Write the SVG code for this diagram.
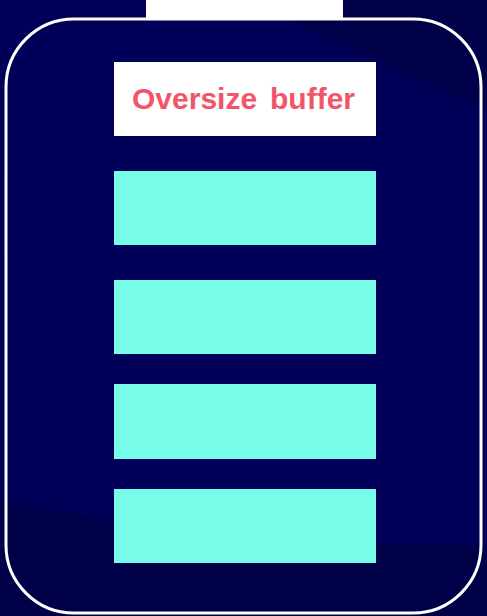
<svg xmlns="http://www.w3.org/2000/svg" width="487" height="616" viewBox="0 0 487 616">
  <style>
    .slot { fill: #77fce9; }
    .label { font-family: "Liberation Sans", Arial, sans-serif; font-weight: bold; font-size: 30px; fill: #f2546a; }
  </style>
  <g id="background">
    <rect x="0" y="0" width="487" height="616" fill="#000058"/>
    <polygon points="246,0 487,0 487,110" fill="#000049"/>
    <path d="M0,500 Q230,548 487,545 L487,616 L0,616 Z" fill="#000049"/>
  </g>
  <g id="battery">
    <rect x="6" y="19" width="475" height="594" rx="68" ry="68" fill="none" stroke="#ffffff" stroke-width="3"/>
    <rect x="146" y="0" width="197" height="19" fill="#ffffff"/>
  </g>
  <g id="oversize-buffer">
    <rect x="114" y="62" width="262" height="74" fill="#ffffff"/>
    <text class="label" y="109"><tspan x="132">Oversize</tspan><tspan x="270">buffer</tspan></text>
  </g>
  <g id="slot-1"><rect class="slot" x="114" y="171" width="262" height="74"/></g>
  <g id="slot-2"><rect class="slot" x="114" y="280" width="262" height="74"/></g>
  <g id="slot-3"><rect class="slot" x="114" y="384" width="262" height="75"/></g>
  <g id="slot-4"><rect class="slot" x="114" y="489" width="262" height="74"/></g>
  <g id="connectors"/>
</svg>
